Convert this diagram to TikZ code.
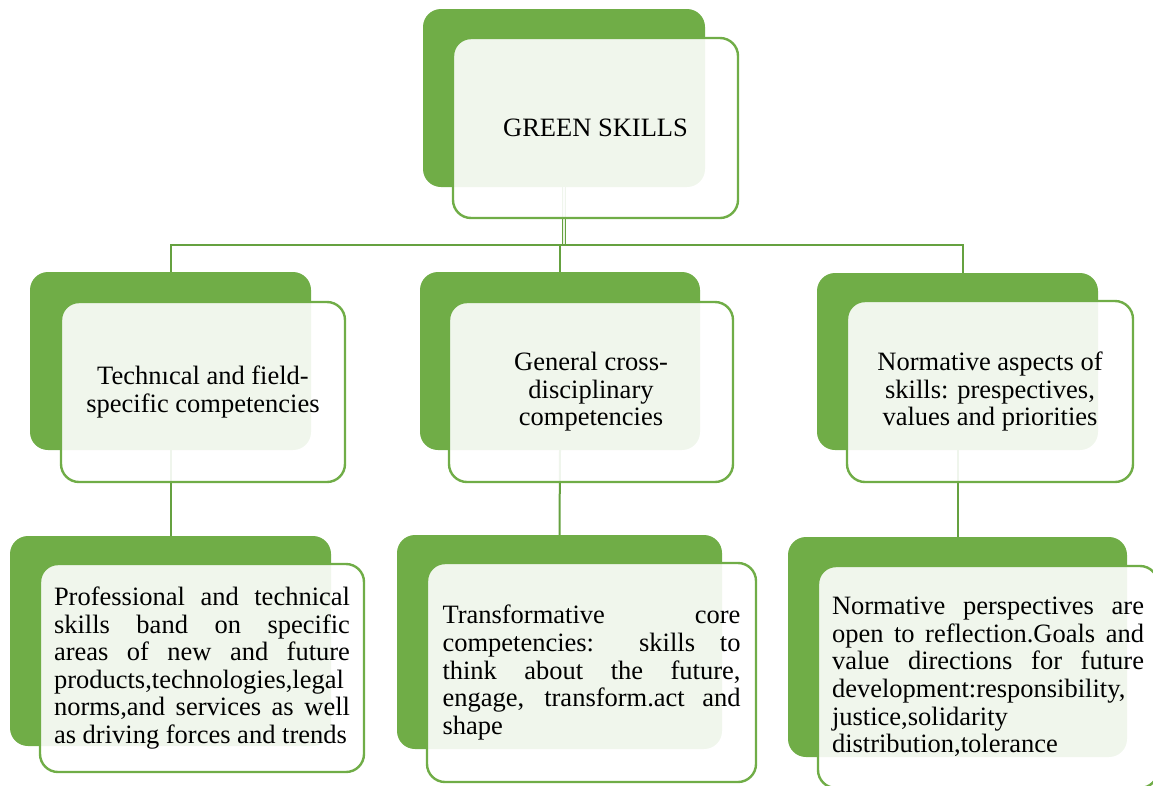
\documentclass[tikz,border=0pt]{standalone}
\usepackage{fontspec}
\setmainfont{Liberation Serif}
\definecolor{gmain}{HTML}{70AD47}
\definecolor{gline}{HTML}{65A140}
\hyphenpenalty=10000
\exhyphenpenalty=10000
\begin{document}
\begin{tikzpicture}[x=1pt,y=-1pt,
  backbox/.style={rectangle, rounded corners=18pt, fill=gmain, draw=none, inner sep=0pt},
  frontbox/.style={rectangle, rounded corners=18pt, draw=gmain, line width=2.4pt,
    fill=white, fill opacity=0.9, text opacity=1, inner sep=0pt,
    font=\fontsize{26.5}{27.6}\selectfont},
  conn/.style={draw=gline, line width=2pt}]
\useasboundingbox (0,0) rectangle (1153,785);
\clip (0,0) rectangle (1153,785);
% back boxes
\node[backbox, minimum width=282pt, minimum height=178pt] (tb) at (564,98) {};
\node[backbox, minimum width=281pt, minimum height=178pt] (mlb) at (170.5,361) {};
\node[backbox, minimum width=280pt, minimum height=178pt] (mcb) at (560,361) {};
\node[backbox, minimum width=281pt, minimum height=177pt] (mrb) at (957.5,361.5) {};
\node[backbox, minimum width=321pt, minimum height=210pt] (blb) at (170.5,641) {};
\node[backbox, minimum width=325pt, minimum height=214pt] (bcb) at (559.5,642) {};
\node[backbox, minimum width=339pt, minimum height=220pt] (brb) at (957.5,647) {};
% connectors
\coordinate (bus) at (0,245);
\draw[gline, line width=1pt, double=white!85!gmain, double distance=2.5pt] (tb.south) -- (tb.south |- bus);
\draw[conn] (mlb.north) |- ([xshift=5pt]mrb.north |- bus) -- ([xshift=5pt]mrb.north);
\draw[conn] (mcb.north |- bus) -- (mcb.north);
\draw[conn] (mlb.south) -- (blb.north);
\draw[conn] (mcb.south) -- (bcb.north);
\draw[conn] (mrb.south) -- (brb.north);
% front boxes
\node[frontbox, minimum width=285pt, minimum height=180pt] (tf) at (595.5,128) {GREEN SKILLS};
\node[frontbox, minimum width=284pt, minimum height=180pt, align=center] (mlf) at (203,392)
  {Technıcal and field-\\specific competencies};
\node[frontbox, minimum width=284pt, minimum height=180pt, align=center] (mcf) at (591,392)
  {General cross-\\disciplinary\\competencies};
\node[frontbox, minimum width=286pt, minimum height=181pt, align=center] (mrf) at (990,391.5)
  {Normative aspects of\\skills: prespectives,\\values and priorities};
\node[frontbox, minimum width=324pt, minimum height=208pt, text width=296pt, align=justify] (blf) at (202,668)
  {Professional and technical\linebreak skills band on specific\linebreak areas of new and future\linebreak products,technologies,legal\linebreak norms,and services as well\linebreak as driving forces and trends};
\node[frontbox, minimum width=329pt, minimum height=219pt, text width=298pt, align=justify] (bcf) at (591.5,672.5)
  {Transformative core\linebreak competencies: skills to\linebreak think about the future,\linebreak engage, transform.act and\linebreak shape};
\node[frontbox, minimum width=340pt, minimum height=222pt, text width=312pt, align=justify] (brf) at (988,677)
  {Normative perspectives are\linebreak open to reflection.Goals and\linebreak value directions for future\linebreak development:responsibility,\linebreak justice,solidarity\linebreak distribution,tolerance};
\end{tikzpicture}
\end{document}
